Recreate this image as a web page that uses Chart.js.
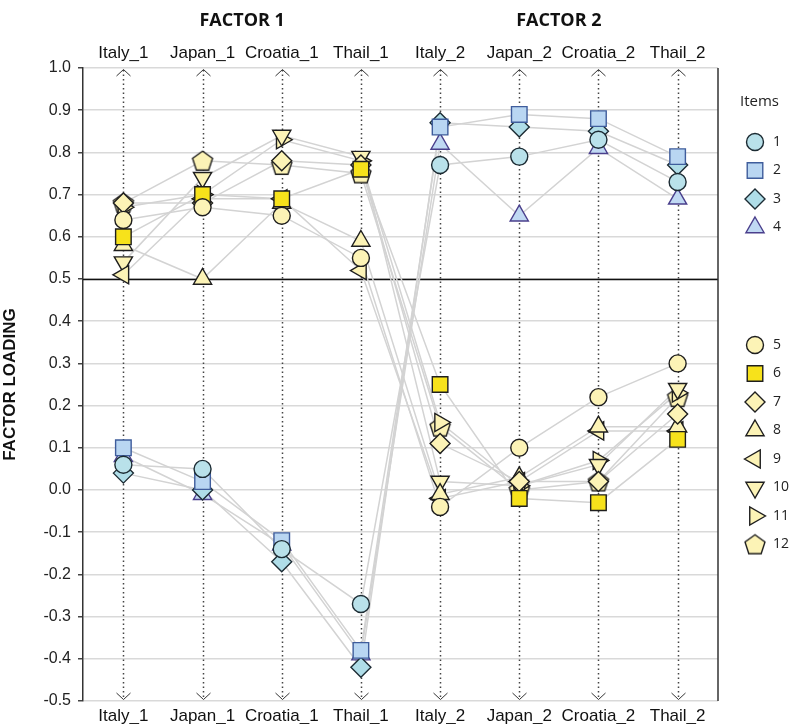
<!DOCTYPE html>
<html>
<head>
<meta charset="utf-8">
<script src="https://cdn.jsdelivr.net/npm/chart.js@4.4.0/dist/chart.umd.min.js"></script>
<style>
  html, body { margin: 0; padding: 0; background: #fff; }
  #wrap { width: 800px; height: 724px; }
</style>
</head>
<body>
<div id="wrap"><canvas id="myChart"></canvas></div>
<script>
// categories (country x factor)
const categories = ['Italy_1', 'Japan_1', 'Croatia_1', 'Thail_1', 'Italy_2', 'Japan_2', 'Croatia_2', 'Thail_2'];
const factorTitles = ['FACTOR 1', 'FACTOR 2'];
const itemNames = ['1', '2', '3', '4', '5', '6', '7', '8', '9', '10', '11', '12'];

// factor loadings per item, one value per category
const item1 = [0.06, 0.05, -0.14, -0.27, 0.77, 0.79, 0.83, 0.73];
const item2 = [0.10, 0.02, -0.12, -0.38, 0.86, 0.89, 0.88, 0.79];
const item3 = [0.04, 0.00, -0.17, -0.42, 0.87, 0.86, 0.85, 0.77];
const item4 = [0.08, -0.01, -0.13, -0.39, 0.82, 0.65, 0.81, 0.69];
const item5 = [0.64, 0.67, 0.65, 0.55, -0.04, 0.10, 0.22, 0.30];
const item6 = [0.60, 0.70, 0.69, 0.76, 0.25, -0.02, -0.03, 0.12];
const item7 = [0.68, 0.68, 0.78, 0.77, 0.11, 0.02, 0.02, 0.18];
const item8 = [0.58, 0.50, 0.68, 0.59, -0.01, 0.03, 0.15, 0.15];
const item9 = [0.51, 0.69, 0.69, 0.52, -0.02, 0.02, 0.14, 0.14];
const item10 = [0.54, 0.74, 0.84, 0.79, 0.02, 0.01, 0.06, 0.24];
const item11 = [0.67, 0.70, 0.83, 0.78, 0.16, 0.01, 0.07, 0.23];
const item12 = [0.68, 0.78, 0.77, 0.75, 0.15, 0.00, 0.02, 0.22];

const itemValues = [item1, item2, item3, item4, item5, item6, item7, item8, item9, item10, item11, item12];

const PALE = '#fcf3b6';
const INK = '#1e1e1e';

// pentagon marker (no built in style for it)
function makePentagon(fill, stroke) {
  const c = document.createElement('canvas');
  c.width = 24; c.height = 24;
  const g = c.getContext('2d');
  g.beginPath();
  for (let i = 0; i < 5; i++) {
    const a = -Math.PI / 2 + i * 2 * Math.PI / 5;
    const px = 12 + Math.cos(a) * 10.5, py = 12.8 + Math.sin(a) * 10.5;
    if (i === 0) g.moveTo(px, py); else g.lineTo(px, py);
  }
  g.closePath();
  g.fillStyle = fill; g.fill();
  g.lineWidth = 1.4; g.strokeStyle = stroke; g.stroke();
  return c;
}
const pentagon = makePentagon(PALE, INK);

const markers = [
  {style: 'circle', rot: 0, r: 8.5, fill: '#b9e1ea', stroke: '#1c2b33'},
  {style: 'rect', rot: 0, r: 11, fill: '#b9d6f2', stroke: '#3f5d9c'},
  {style: 'rectRot', rot: 0, r: 10, fill: '#afdde8', stroke: '#1c2b33'},
  {style: 'triangle', rot: 0, r: 10.5, fill: '#c0d9f3', stroke: '#4a3f8c'},
  {style: 'circle', rot: 0, r: 8.5, fill: PALE, stroke: INK},
  {style: 'rect', rot: 0, r: 11, fill: '#f7e21b', stroke: INK},
  {style: 'rectRot', rot: 0, r: 10, fill: PALE, stroke: INK},
  {style: 'triangle', rot: 0, r: 10.5, fill: PALE, stroke: INK},
  {style: 'triangle', rot: -90, r: 10.5, fill: PALE, stroke: INK},
  {style: 'triangle', rot: 180, r: 10.5, fill: PALE, stroke: INK},
  {style: 'triangle', rot: 90, r: 10.5, fill: PALE, stroke: INK},
  {style: pentagon, rot: 0, r: 11, fill: PALE, stroke: INK}
];

const toPoints = vals => vals.map((v, i) => ({x: i, y: v}));

const lineSets = itemValues.map((vals, k) => ({
  label: 'line ' + itemNames[k],
  data: toPoints(vals),
  showLine: true,
  borderColor: '#d3d3d3',
  borderWidth: 1.5,
  pointRadius: 0,
  order: 2
}));

const pointSets = itemValues.map((vals, k) => ({
  label: itemNames[k],
  data: toPoints(vals),
  showLine: false,
  pointStyle: markers[k].style,
  pointRotation: markers[k].rot,
  pointRadius: markers[k].r,
  pointHoverRadius: markers[k].r,
  pointBackgroundColor: markers[k].fill,
  pointBorderColor: markers[k].stroke,
  pointBorderWidth: 1.4,
  order: 1
}));

const arial = "'Liberation Sans', Arial, sans-serif";
const sans = "'Open Sans', 'Noto Sans', sans-serif";

const catTicks = s => { s.ticks = categories.map((c, i) => ({value: i})); };

const decor = {
  id: 'decor',
  beforeDatasetsDraw(chart) {
    const {ctx, chartArea: a, scales: {x, y}} = chart;
    ctx.save();
    // dotted verticals with arrow heads
    categories.forEach((c, i) => {
      const px = Math.round(x.getPixelForValue(i)) + 0.5;
      ctx.strokeStyle = '#444';
      ctx.lineWidth = 1.5;
      ctx.setLineDash([1.5, 3]);
      ctx.beginPath();
      ctx.moveTo(px, a.top + 2);
      ctx.lineTo(px, a.bottom - 2);
      ctx.stroke();
      ctx.setLineDash([]);
      ctx.lineWidth = 1;
      ctx.strokeStyle = '#333';
      ctx.beginPath();
      ctx.moveTo(px - 7, a.top + 8); ctx.lineTo(px, a.top + 1.5); ctx.lineTo(px + 7, a.top + 8);
      ctx.moveTo(px - 7, a.bottom - 8); ctx.lineTo(px, a.bottom - 1.5); ctx.lineTo(px + 7, a.bottom - 8);
      ctx.stroke();
    });
    // 0.5 reference line
    const py = Math.round(y.getPixelForValue(0.5)) + 0.5;
    ctx.strokeStyle = '#111';
    ctx.lineWidth = 1.5;
    ctx.beginPath();
    ctx.moveTo(a.left, py); ctx.lineTo(a.right, py);
    ctx.stroke();
    // right frame
    ctx.strokeStyle = '#333';
    ctx.beginPath();
    ctx.moveTo(a.right, a.top); ctx.lineTo(a.right, a.bottom);
    ctx.stroke();
    ctx.restore();
  },
  afterDraw(chart) {
    const {ctx, chartArea: a, scales: {x}} = chart;
    ctx.save();
    ctx.fillStyle = '#111';
    ctx.textAlign = 'center';
    ctx.textBaseline = 'middle';
    ctx.font = "bold 18px " + sans;
    ctx.fillText(factorTitles[0], x.getPixelForValue(1.5), 21);
    ctx.fillText(factorTitles[1], x.getPixelForValue(5.5), 21);

    ctx.save();
    ctx.translate(10, (a.top + a.bottom) / 2);
    ctx.rotate(-Math.PI / 2);
    ctx.font = "bold 17px " + arial;
    ctx.fillText('FACTOR LOADING', 0, 0);
    ctx.restore();

    // legend
    ctx.textAlign = 'left';
    ctx.font = "15px " + sans;
    ctx.fillStyle = '#222';
    ctx.fillText('Items', 740, 102);
    ctx.font = "14px " + sans;
    itemNames.forEach((name, k) => {
      const ly = k < 4 ? 142 + k * 28.5 : 345 + (k - 4) * 28.5;
      const m = markers[k];
      ctx.fillStyle = m.fill;
      ctx.strokeStyle = m.stroke;
      ctx.lineWidth = 1.4;
      Chart.helpers.drawPoint(ctx, {pointStyle: m.style, rotation: m.rot, radius: m.r, borderWidth: 1.4}, 755, ly);
      ctx.fillStyle = '#222';
      ctx.fillText(name, 773, ly);
    });
    ctx.restore();
  }
};

new Chart(document.getElementById('myChart'), {
  type: 'scatter',
  data: {datasets: [...pointSets, ...lineSets]},
  plugins: [decor],
  options: {
    responsive: true,
    maintainAspectRatio: false,
    animation: false,
    layout: {padding: {left: 0, right: 82, top: 0, bottom: 0}},
    plugins: {legend: {display: false}, tooltip: {enabled: false}},
    scales: {
      x: {
        type: 'linear', position: 'bottom', min: -0.51, max: 7.51,
        grid: {display: false, drawTicks: false},
        border: {display: false},
        afterBuildTicks: catTicks,
        afterFit: s => { s.height = 23; },
        ticks: {callback: v => categories[v], autoSkip: false, maxRotation: 0, padding: 5,
                color: '#111', font: {family: arial, size: 17}}
      },
      x2: {
        type: 'linear', position: 'top', min: -0.51, max: 7.51,
        grid: {display: false, drawTicks: false},
        border: {display: false},
        afterBuildTicks: catTicks,
        afterFit: s => { s.height = 68; },
        ticks: {callback: v => categories[v], autoSkip: false, maxRotation: 0, padding: 4,
                color: '#111', font: {family: arial, size: 17}}
      },
      y: {
        min: -0.5, max: 1.0,
        afterFit: s => { s.width = 83; },
        grid: {color: '#d9d9d9', lineWidth: 1.5, tickColor: '#444', tickLength: 5},
        border: {color: '#333', width: 1.5},
        ticks: {stepSize: 0.1, padding: 7, color: '#222', font: {family: arial, size: 16},
                callback: v => (Math.abs(v) < 1e-9 ? 0 : v).toFixed(1)}
      }
    }
  }
});
</script>
</body>
</html>
